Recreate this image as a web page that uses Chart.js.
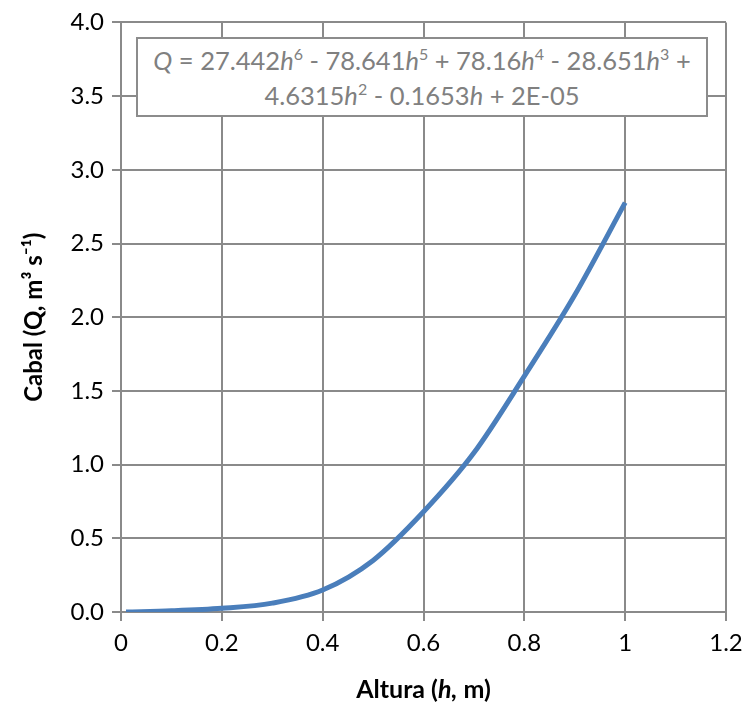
<!DOCTYPE html>
<html>
<head>
<meta charset="utf-8">
<script src="https://cdn.jsdelivr.net/npm/chart.js@4.4.1/dist/chart.umd.min.js"></script>
<style>
  html, body { margin: 0; padding: 0; background: #fff; }
  #wrap { position: relative; width: 753px; height: 710px; }
  #eq {
    position: absolute; left: 136px; top: 37px; width: 572px; height: 80px;
    border: 2px solid #8c8c8c; background: #fff; box-sizing: border-box;
    font-family: Lato, "Open Sans", sans-serif; font-size: 25.5px; color: #808080;
    text-align: center; line-height: 35px; padding-top: 4px; white-space: nowrap;
  }
  #eq sup { font-size: 16px; line-height: 0; vertical-align: 10px; }
</style>
</head>
<body>
<div id="wrap">
  <canvas id="c" width="753" height="710"></canvas>
  <div id="eq"><i>Q</i> = 27.442<i>h</i><sup>6</sup> - 78.641<i>h</i><sup>5</sup> + 78.16<i>h</i><sup>4</sup> - 28.651<i>h</i><sup>3</sup> +<br>4.6315<i>h</i><sup>2</sup> - 0.1653<i>h</i> + 2E-05</div>
</div>
<script>
const heights = [0.01, 0.1, 0.2, 0.3, 0.4, 0.5, 0.6, 0.7, 0.8, 0.9, 1.0];
const flows   = [0.0, 0.008, 0.025, 0.06, 0.149, 0.35, 0.68, 1.08, 1.60, 2.15, 2.777];
const xTicks = [0, 0.2, 0.4, 0.6, 0.8, 1, 1.2];
const yTicks = [0, 0.5, 1, 1.5, 2, 2.5, 3, 3.5, 4];

const gridColor = '#8a8a8a';
const fontFam = 'Lato, "Open Sans", sans-serif';

const xTitlePlugin = {
  id: 'xTitle',
  afterDraw(chart) {
    const ctx = chart.ctx;
    const area = chart.chartArea;
    const parts = [
      { t: 'Altura (', f: 'bold 25px ' + fontFam },
      { t: 'h,', f: 'italic bold 25px ' + fontFam },
      { t: ' m)', f: 'bold 25px ' + fontFam }
    ];
    ctx.save();
    let total = 0;
    parts.forEach(p => { ctx.font = p.f; p.w = ctx.measureText(p.t).width; total += p.w; });
    let x = (area.left + area.right) / 2 - total / 2;
    ctx.fillStyle = '#000';
    ctx.textBaseline = 'middle';
    parts.forEach(p => { ctx.font = p.f; ctx.fillText(p.t, x, 690); x += p.w; });
    ctx.restore();
  }
};

new Chart(document.getElementById('c'), {
  type: 'line',
  data: {
    datasets: [{
      data: heights.map((h, i) => ({ x: h, y: flows[i] })),
      borderColor: '#4a7ebb',
      borderWidth: 5,
      pointRadius: 0,
      cubicInterpolationMode: 'monotone',
      fill: false
    }]
  },
  options: {
    responsive: false,
    animation: false,
    layout: { padding: { left: 0, right: 27, top: 18, bottom: 0 } },
    plugins: { legend: { display: false }, tooltip: { enabled: false } },
    scales: {
      x: {
        type: 'linear', min: 0, max: 1.2,
        afterBuildTicks: s => { s.ticks = xTicks.map(v => ({ value: v })); },
        afterFit: s => { s.height = 98; },
        grid: { color: gridColor, lineWidth: 2, tickLength: 9, drawTicks: true },
        border: { color: gridColor, width: 2 },
        ticks: {
          color: '#000', font: { family: fontFam, size: 24 }, padding: 8,
          maxRotation: 0, autoSkip: false,
          callback: v => String(Number(v.toFixed(1)))
        }
      },
      y: {
        type: 'linear', min: 0, max: 4,
        afterBuildTicks: s => { s.ticks = yTicks.map(v => ({ value: v })); },
        afterFit: s => { s.width = 121; },
        grid: { color: gridColor, lineWidth: 2, tickLength: 9 },
        border: { color: gridColor, width: 2 },
        title: {
          display: true, text: 'Cabal (Q, m³ s⁻¹)', color: '#000',
          font: { family: fontFam, size: 24, weight: 'bold' }, padding: { top: 20, bottom: 0 }
        },
        ticks: {
          color: '#000', font: { family: fontFam, size: 24 }, padding: 8,
          callback: v => v.toFixed(1)
        }
      }
    }
  },
  plugins: [xTitlePlugin]
});
</script>
</body>
</html>
